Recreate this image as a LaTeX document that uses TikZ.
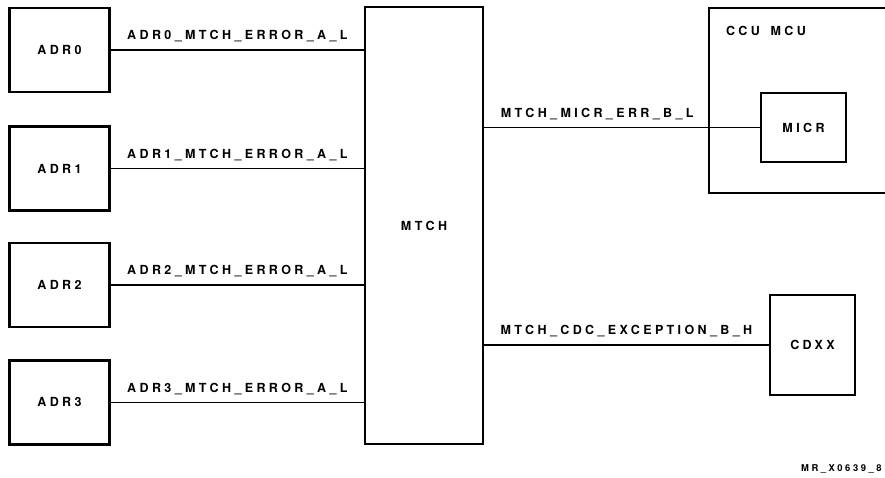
\documentclass[tikz,border=0pt]{standalone}
\usepackage{fontspec}
\setmainfont{TeX Gyre Heros}[LetterSpace=27]
\usetikzlibrary{calc}
\tikzset{
  unit box/.style={
    draw,
    line width=2.4pt,
    inner sep=0pt,
    minimum width=100pt,
    minimum height=84pt,
    font=\bfseries\fontsize{12.5}{14}\selectfont
  },
  bus box/.style={
    draw,
    line width=2pt,
    inner sep=0pt,
    minimum width=118pt,
    minimum height=437pt,
    font=\bfseries\fontsize{12.5}{14}\selectfont
  },
  wire/.style={
    line width=1.3pt
  },
  sig label/.style={
    anchor=base,
    yshift=10pt,
    inner sep=0pt,
    font=\bfseries\fontsize{12.5}{14}\selectfont
  },
  box title/.style={
    anchor=base west,
    inner sep=0pt,
    font=\bfseries\fontsize{12.5}{14}\selectfont
  },
  drawing tag/.style={
    anchor=base west,
    inner sep=0pt,
    font=\bfseries\fontsize{9.4}{11}\selectfont
  }
}
\begin{document}
\begin{tikzpicture}[x=1pt, y=1pt]
  \useasboundingbox (0,0) rectangle (885,478);

  % match block
  \node[bus box] (mtch) at (424,252.5) {MTCH};

  % address units and their error lines
  \foreach \i/\y in {0/428,1/309.5,2/193,3/75.5} {
    \node[unit box] (adr\i) at (59.5,\y) {ADR\i};
    \draw[wire] (adr\i.east) -- node[sig label] {ADR\i\_MTCH\_ERROR\_A\_L} (adr\i.east -| mtch.west);
  }

  % CCU MCU with MICR inside
  \node[unit box, minimum width=196pt, minimum height=185pt] (ccu) at (807,377.5) {};
  \node[box title] (ccutitle) at ($(ccu.north west)+(18,-29)$) {CCU \hspace{4pt}MCU};
  \node[unit box, line width=2pt, minimum width=85pt, minimum height=69pt] (micr) at (803.5,350.5) {MICR};
  \draw[wire] (micr.west -| mtch.east) -- node[sig label, pos=0.41] {MTCH\_MICR\_ERR\_B\_L} (micr.west);

  % CDXX
  \node[unit box, minimum width=85pt, minimum height=100pt] (cdxx) at (812.5,133) {CDXX};
  \draw[wire] (cdxx.west -| mtch.east) -- node[sig label] {MTCH\_CDC\_EXCEPTION\_B\_H} (cdxx.west);

  % drawing number
  \node[drawing tag] (drawno) at (801,6) {MR\_X0639\_8};
\end{tikzpicture}
\end{document}
